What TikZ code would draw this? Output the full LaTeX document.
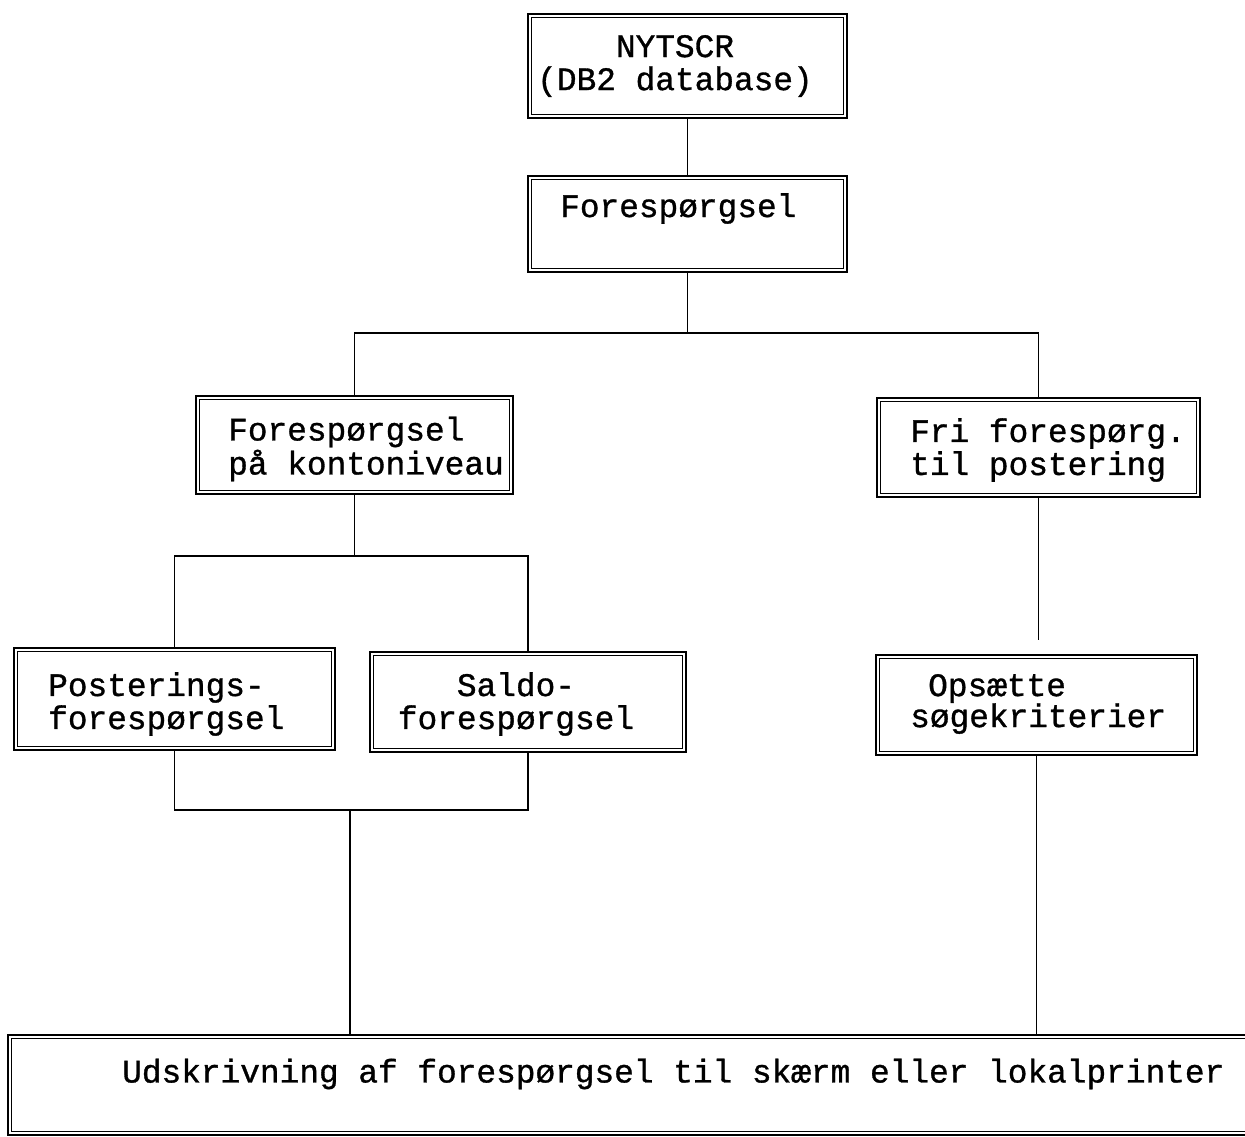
\documentclass[tikz,border=0pt]{standalone}
\usepackage{fontspec}
\newfontfamily\cour{Liberation Mono}[FakeBold=1]
\begin{document}
\begin{tikzpicture}[x=1pt,y=-1pt,
  dbox/.style={draw, line width=2.6pt, inner sep=0pt},
  inbox/.style={line width=1.2pt},
  conn/.style={line width=1.8pt},
  txt/.style={font=\cour\fontsize{32.8}{33}\selectfont, inner sep=0pt, align=left}]
\useasboundingbox[fill=white] (0,0) rectangle (1245,1137);
\clip (0,0) rectangle (1245,1137);
% boxes
\node[dbox, minimum width=319pt, minimum height=104pt] (db) at (687.5,66) {};
\node[dbox, minimum width=319pt, minimum height=96pt] (fq) at (687.5,224) {};
\node[dbox, minimum width=317pt, minimum height=98pt] (kn) at (354.5,445) {};
\node[dbox, minimum width=323pt, minimum height=99pt] (fr) at (1038.5,447.5) {};
\node[dbox, minimum width=321pt, minimum height=102pt] (po) at (174.5,699) {};
\node[dbox, minimum width=316pt, minimum height=100pt] (sa) at (528,702) {};
\node[dbox, minimum width=321pt, minimum height=100pt] (op) at (1036.5,705) {};
\node[dbox, minimum width=1257pt, minimum height=100pt] (ud) at (636.5,1085) {};
\foreach \n in {db,fq,kn,fr,po,sa,op,ud}
  \draw[inbox] ([shift={(5pt,5pt)}]\n.south west) rectangle ([shift={(-5pt,-5pt)}]\n.north east);
% texts
\node[txt, align=center] (t1) at (675,66) {NYTSCR\\(DB2 database)};
\node[txt, anchor=base west] (t2) at (560,217) {Forespørgsel};
\node[txt, anchor=west, font=\cour\fontsize{32.8}{34}\selectfont] (t3) at (228,449) {Forespørgsel\\på kontoniveau};
\node[txt, anchor=west] (t4) at (910,450) {Fri forespørg.\\til postering};
\node[txt, anchor=west] (t5) at (48,704) {Posterings-\\forespørgsel};
\node[txt, align=center] (t6) at (516,704) {Saldo-\\forespørgsel};
\node[txt, anchor=west, font=\cour\fontsize{32.8}{31}\selectfont] (t7) at (910,704) {\hspace*{18pt}Opsætte\\søgekriterier};
\node[txt, anchor=west] (t8) at (122,1074) {Udskrivning af forespørgsel til skærm eller lokalprinter};
% connectors
\coordinate (j1) at (687.5,333);
\coordinate (j2) at (354.5,556);
\coordinate (j3) at (350,810);
\coordinate (g) at (1038.5,640);
\draw[conn] (db.south) -- (fq.north);
\draw[conn] (fq.south) -- (j1);
\draw[conn] (kn.north) |- (j1) -| (fr.north);
\draw[conn] (kn.south) -- (j2);
\draw[conn] (po.north) |- (j2) -| (sa.north);
\draw[conn] (po.south) |- (j3) -| (sa.south);
\draw[conn] (j3) -- (j3 |- ud.north);
\draw[conn] (fr.south) -- (g);
\draw[conn] (op.south) -- (op.south |- ud.north);
\end{tikzpicture}
\end{document}
